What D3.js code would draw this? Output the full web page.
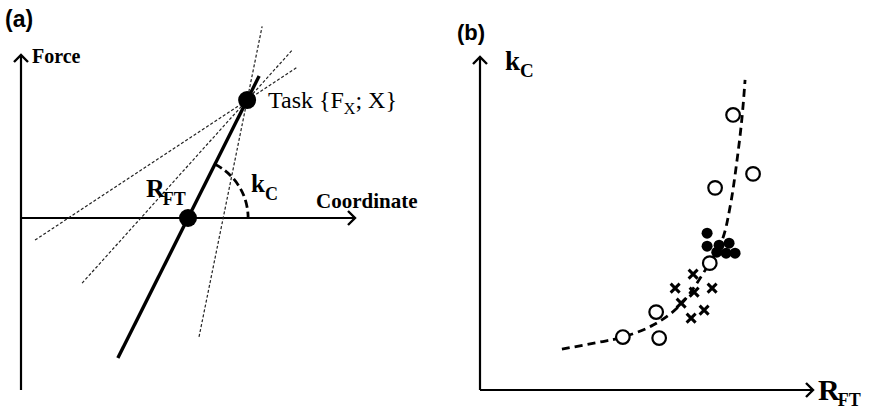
<!DOCTYPE html>
<html>
<head>
<meta charset="utf-8">
<script src="https://cdn.jsdelivr.net/npm/d3@7"></script>
<style>
  body { margin: 0; background: #fff; }
  svg { display: block; }
  .serif { font-family: "Liberation Serif", "Times New Roman", serif; }
  .sans { font-family: "Liberation Sans", Arial, sans-serif; font-weight: bold; }
</style>
</head>
<body>
<svg id="chart"></svg>
<script>
const W = 880, H = 413;

// ---- panel (a): force / coordinate diagram (data units) ----
const taskPoint = [6.77, 3.53];
const rftPoint = [5.0, 0];
const solidLine = [[2.9, -4.19], [7.13, 4.25]];
const dashedLines = [
  [[5.33, -3.56], [7.22, 5.74]],
  [[1.83, -1.95], [8.14, 5.05]],
  [[0.42, -0.66], [8.29, 4.53]]
];
const kcArc = { r: 1.8, angle: 63.4 };

// ---- panel (b): kC vs RFT scatter ----
const fitCurve = [
  [24.6, 12.3], [36, 14.4], [42.9, 15.9], [52, 19.5], [60.1, 25.5], [68.2, 36.9],
  [72.7, 45.0], [75.1, 55.0], [77.2, 69.1], [78.7, 82.0], [79.6, 93.1]
];
const openPts = [
  [76, 82.6], [82, 64.9], [70.6, 60.7], [69, 38.1], [52.9, 23.4], [42.9, 15.9], [53.8, 15.6]
];
const filledPts = [
  [68.2, 47.1], [68.2, 43.2], [71.8, 43.5], [74.8, 44.1], [73.9, 41.1], [76.6, 41.1], [71.1, 41.4]
];
const crossPts = [
  [64, 34.8], [58.6, 30.6], [64.3, 29.4], [69.7, 30.6], [60.4, 26.1], [67.3, 24], [63.4, 21.6]
];

const svg = d3.select('#chart').attr('width', W).attr('height', H);

const arrowHead = (g, x, y, dir) => {
  // open chevron arrow head, dir 'up' or 'right'
  const s = 7;
  const d = dir === 'up'
    ? `M${x - s},${y + s} L${x},${y} L${x + s},${y + s}`
    : `M${x - s},${y - s} L${x},${y} L${x - s},${y + s}`;
  g.append('path').attr('d', d).attr('fill', 'none')
    .attr('stroke', '#000').attr('stroke-width', 2.4);
};

// ================= panel (a) =================
const ga = svg.append('g');
const unit = 33.4;
const xA = d3.scaleLinear().domain([0, 10]).range([21, 21 + 10 * unit]);
const yA = d3.scaleLinear().domain([0, 1]).range([218, 218 - unit]);

// axes
ga.append('line').attr('x1', xA(0)).attr('x2', xA(0))
  .attr('y1', 390).attr('y2', 55).attr('stroke', '#000').attr('stroke-width', 2.2);
arrowHead(ga, xA(0), 55, 'up');
ga.append('line').attr('x1', xA(0)).attr('x2', 355)
  .attr('y1', yA(0)).attr('y2', yA(0)).attr('stroke', '#000').attr('stroke-width', 2.2);
arrowHead(ga, 355, yA(0), 'right');

const lineA = d3.line().x(d => xA(d[0])).y(d => yA(d[1]));

ga.selectAll('.dash-line')
  .data(dashedLines)
  .enter()
  .append('path')
  .attr('class', 'dash-line')
  .attr('d', lineA)
  .attr('fill', 'none')
  .attr('stroke', '#222')
  .attr('stroke-width', 1.2)
  .attr('stroke-dasharray', '3,2');

ga.append('path')
  .datum(solidLine)
  .attr('d', lineA)
  .attr('fill', 'none')
  .attr('stroke', '#000')
  .attr('stroke-width', 3.4);

// kC angle arc
const arcPath = d3.path();
const cx = xA(rftPoint[0]), cy = yA(rftPoint[1]);
const rPx = xA(kcArc.r) - xA(0);
const a0 = -kcArc.angle * Math.PI / 180;
arcPath.moveTo(cx + rPx * Math.cos(a0), cy + rPx * Math.sin(a0));
arcPath.arc(cx, cy, rPx, a0, 0, false);
ga.append('path').attr('d', arcPath.toString())
  .attr('fill', 'none').attr('stroke', '#000')
  .attr('stroke-width', 2.8).attr('stroke-dasharray', '8,4');

ga.selectAll('.pt')
  .data([taskPoint, rftPoint])
  .enter()
  .append('circle')
  .attr('class', 'pt')
  .attr('cx', d => xA(d[0]))
  .attr('cy', d => yA(d[1]))
  .attr('r', 9)
  .attr('fill', '#000');

ga.append('text').attr('class', 'sans').attr('x', 5).attr('y', 27)
  .style('font-size', '23px').text('(a)');
ga.append('text').attr('class', 'serif').attr('x', 32).attr('y', 63)
  .style('font-size', '20px').style('font-weight', 'bold').text('Force');
ga.append('text').attr('class', 'serif').attr('x', 316).attr('y', 208)
  .style('font-size', '21px').style('font-weight', 'bold').text('Coordinate');

const rft = ga.append('text').attr('class', 'serif').attr('x', 146).attr('y', 197)
  .style('font-weight', 'bold');
rft.append('tspan').style('font-size', '26px').text('R');
rft.append('tspan').style('font-size', '18px').attr('dx', -2).attr('dy', 8).text('FT');

const kc = ga.append('text').attr('class', 'serif').attr('x', 251).attr('y', 192)
  .style('font-weight', 'bold');
kc.append('tspan').style('font-size', '25px').text('k');
kc.append('tspan').style('font-size', '18px').attr('dy', 8).text('C');

const task = ga.append('text').attr('class', 'serif').attr('x', 268).attr('y', 108);
task.append('tspan').style('font-size', '24px').text('Task {F');
task.append('tspan').style('font-size', '16px').attr('dy', 6).text('X');
task.append('tspan').style('font-size', '24px').attr('dy', -6).text('; X}');

// ================= panel (b) =================
const gb = svg.append('g');
const xB = d3.scaleLinear().domain([0, 100]).range([480, 813]);
const yB = d3.scaleLinear().domain([0, 100]).range([390, 57]);

gb.append('line').attr('x1', xB(0)).attr('x2', xB(0))
  .attr('y1', yB(0)).attr('y2', yB(100)).attr('stroke', '#000').attr('stroke-width', 2.2);
arrowHead(gb, xB(0), yB(100), 'up');
gb.append('line').attr('x1', xB(0)).attr('x2', xB(100))
  .attr('y1', yB(0)).attr('y2', yB(0)).attr('stroke', '#000').attr('stroke-width', 2.2);
arrowHead(gb, xB(100), yB(0), 'right');

gb.append('path')
  .datum(fitCurve)
  .attr('d', d3.line().x(d => xB(d[0])).y(d => yB(d[1])).curve(d3.curveCatmullRom))
  .attr('fill', 'none')
  .attr('stroke', '#000')
  .attr('stroke-width', 2.8)
  .attr('stroke-dasharray', '8,5');

gb.selectAll('.open')
  .data(openPts)
  .enter()
  .append('circle')
  .attr('class', 'open')
  .attr('cx', d => xB(d[0]))
  .attr('cy', d => yB(d[1]))
  .attr('r', 6.8)
  .attr('fill', '#fff')
  .attr('stroke', '#000')
  .attr('stroke-width', 2.2);

gb.selectAll('.filled')
  .data(filledPts)
  .enter()
  .append('circle')
  .attr('class', 'filled')
  .attr('cx', d => xB(d[0]))
  .attr('cy', d => yB(d[1]))
  .attr('r', 5.5)
  .attr('fill', '#000');

const cs = 4.5;
gb.selectAll('.cross')
  .data(crossPts)
  .enter()
  .append('path')
  .attr('class', 'cross')
  .attr('d', d => {
    const x = xB(d[0]), y = yB(d[1]);
    return `M${x - cs},${y - cs}L${x + cs},${y + cs}M${x + cs},${y - cs}L${x - cs},${y + cs}`;
  })
  .attr('stroke', '#000')
  .attr('stroke-width', 3);

gb.append('text').attr('class', 'sans').attr('x', 457).attr('y', 40)
  .style('font-size', '22px').text('(b)');

const kcB = gb.append('text').attr('class', 'serif').attr('x', 505).attr('y', 70)
  .style('font-weight', 'bold');
kcB.append('tspan').style('font-size', '27px').text('k');
kcB.append('tspan').style('font-size', '19px').attr('dy', 7).text('C');

const rftB = gb.append('text').attr('class', 'serif').attr('x', 818).attr('y', 400)
  .style('font-weight', 'bold');
rftB.append('tspan').style('font-size', '30px').text('R');
rftB.append('tspan').style('font-size', '18px').attr('dx', -2).attr('dy', 6).text('FT');
</script>
</body>
</html>
